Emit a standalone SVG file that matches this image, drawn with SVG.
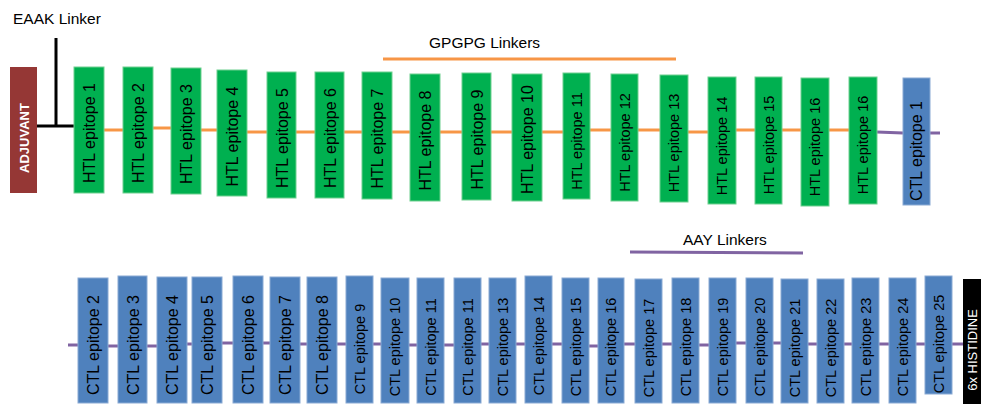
<svg xmlns="http://www.w3.org/2000/svg" width="981" height="404" viewBox="0 0 981 404">
  <style>
    .htl { fill: #00b050; stroke: #6fd08f; stroke-width: 1; }
    .ctl { fill: #4f81bd; stroke: #8aaad4; stroke-width: 1; }
    .adj { fill: #953735; }
    .his { fill: #000000; }
    .lbl { font-family: "Liberation Sans", Arial, sans-serif; font-size: 16px; fill: #000000; text-anchor: middle; }
    .sm { font-size: 14.5px; }
    .wl { font-family: "Liberation Sans", Arial, sans-serif; fill: #ffffff; text-anchor: middle; }
    .cap { font-family: "Liberation Sans", Arial, sans-serif; font-size: 15.5px; fill: #000000; }
    .gp { stroke: #f79646; stroke-width: 3; fill: none; }
    .aay { stroke: #8064a2; stroke-width: 3; fill: none; }
    .eaak { stroke: #000000; stroke-width: 3; fill: none; }
  </style>

  <!-- linker captions -->
  <text class="cap" x="13" y="24">EAAK Linker</text>
  <text class="cap" x="429" y="48">GPGPG Linkers</text>
  <text class="cap" x="683" y="245">AAY Linkers</text>

  <!-- connectors -->
  <g id="connectors">
    <!-- EAAK bracket -->
    <path class="eaak" d="M56 38 V126 M37 126 H74"/>
    <!-- GPGPG legend bar -->
    <line class="gp" x1="383" y1="59" x2="676" y2="59"/>
    <!-- GPGPG segments between HTL epitopes -->
    <line class="gp" x1="104" y1="130" x2="123" y2="130"/>
    <line class="gp" x1="153" y1="128" x2="171" y2="128"/>
    <line class="gp" x1="201" y1="130" x2="217" y2="130"/>
    <line class="gp" x1="247" y1="132" x2="267" y2="132"/>
    <line class="gp" x1="296" y1="132" x2="315" y2="132"/>
    <line class="gp" x1="344" y1="132" x2="362" y2="132"/>
    <line class="gp" x1="392" y1="132" x2="410" y2="132"/>
    <line class="gp" x1="440" y1="132" x2="462" y2="132"/>
    <line class="gp" x1="491" y1="132" x2="512" y2="132"/>
    <line class="gp" x1="542" y1="132" x2="563" y2="132"/>
    <line class="gp" x1="590" y1="130" x2="611" y2="130"/>
    <line class="gp" x1="638" y1="130" x2="660" y2="130"/>
    <line class="gp" x1="688" y1="132" x2="708" y2="132"/>
    <line class="gp" x1="736" y1="130" x2="755" y2="130"/>
    <line class="gp" x1="782" y1="130" x2="801" y2="130"/>
    <line class="gp" x1="829" y1="130" x2="849" y2="130"/>
    <!-- AAY into CTL epitope 1 -->
    <line class="aay" x1="877" y1="132" x2="903" y2="133"/>
    <line class="aay" x1="930" y1="133" x2="940" y2="133"/>
    <!-- AAY legend bar -->
    <line class="aay" x1="630" y1="252" x2="803" y2="253"/>
    <!-- AAY segments between CTL epitopes -->
    <line class="aay" x1="68" y1="345" x2="78" y2="345"/>
    <line class="aay" x1="108" y1="346" x2="118" y2="346"/>
    <line class="aay" x1="147" y1="346" x2="157" y2="346"/>
    <line class="aay" x1="187" y1="344" x2="192" y2="344"/>
    <line class="aay" x1="222" y1="343" x2="233" y2="343"/>
    <line class="aay" x1="263" y1="343" x2="270" y2="343"/>
    <line class="aay" x1="300" y1="344" x2="307" y2="344"/>
    <line class="aay" x1="337" y1="344" x2="346" y2="344"/>
    <line class="aay" x1="373" y1="344" x2="381" y2="344"/>
    <line class="aay" x1="409" y1="345" x2="417" y2="345"/>
    <line class="aay" x1="444" y1="345" x2="454" y2="345"/>
    <line class="aay" x1="481" y1="344" x2="489" y2="344"/>
    <line class="aay" x1="516" y1="344" x2="525" y2="344"/>
    <line class="aay" x1="552" y1="344" x2="562" y2="344"/>
    <line class="aay" x1="589" y1="346" x2="598" y2="346"/>
    <line class="aay" x1="624" y1="344" x2="635" y2="344"/>
    <line class="aay" x1="662" y1="344" x2="672" y2="344"/>
    <line class="aay" x1="699" y1="345" x2="709" y2="345"/>
    <line class="aay" x1="736" y1="343" x2="746" y2="343"/>
    <line class="aay" x1="773" y1="343" x2="781" y2="343"/>
    <line class="aay" x1="808" y1="344" x2="817" y2="344"/>
    <line class="aay" x1="844" y1="344" x2="852" y2="344"/>
    <line class="aay" x1="879" y1="344" x2="889" y2="344"/>
    <line class="aay" x1="916" y1="344" x2="925" y2="344"/>
    <line class="aay" x1="952" y1="344" x2="963" y2="344"/>
  </g>

  <!-- top row -->
  <g id="adjuvant"><rect class="adj" x="10" y="67" width="27" height="126"/><text class="wl" font-size="13" font-weight="bold" transform="translate(29,138) rotate(-90)">ADJUVANT</text></g>
  <g id="htl1"><rect class="htl" x="74" y="67" width="30" height="126"/><text class="lbl" transform="translate(95,133) rotate(-90)">HTL epitope 1</text></g>
  <g id="htl2"><rect class="htl" x="123" y="67" width="30" height="126"/><text class="lbl" transform="translate(144,133) rotate(-90)">HTL epitope 2</text></g>
  <g id="htl3"><rect class="htl" x="171" y="68" width="30" height="126"/><text class="lbl" transform="translate(192,134) rotate(-90)">HTL epitope 3</text></g>
  <g id="htl4"><rect class="htl" x="217" y="70" width="30" height="126"/><text class="lbl" transform="translate(238,136.5) rotate(-90)">HTL epitope 4</text></g>
  <g id="htl5"><rect class="htl" x="267" y="72" width="29" height="126"/><text class="lbl" transform="translate(287.5,138) rotate(-90)">HTL epitope 5</text></g>
  <g id="htl6"><rect class="htl" x="315" y="72" width="29" height="126"/><text class="lbl" transform="translate(335.5,138) rotate(-90)">HTL epitope 6</text></g>
  <g id="htl7"><rect class="htl" x="362" y="72" width="30" height="127"/><text class="lbl" transform="translate(383,138.5) rotate(-90)">HTL epitope 7</text></g>
  <g id="htl8"><rect class="htl" x="410" y="74" width="30" height="127"/><text class="lbl" transform="translate(431,140.5) rotate(-90)">HTL epitope 8</text></g>
  <g id="htl9"><rect class="htl" x="462" y="73" width="29" height="127"/><text class="lbl" transform="translate(482.5,139.5) rotate(-90)">HTL epitope 9</text></g>
  <g id="htl10"><rect class="htl" x="512" y="74" width="30" height="127"/><text class="lbl" font-size="15.5" transform="translate(532.5,139.5) rotate(-90)">HTL epitope 10</text></g>
  <g id="htl11"><rect class="htl" x="563" y="73" width="27" height="126"/><text class="lbl sm" transform="translate(581.5,141) rotate(-90)">HTL epitope 11</text></g>
  <g id="htl12"><rect class="htl" x="611" y="74" width="27" height="127"/><text class="lbl sm" transform="translate(629.5,142.5) rotate(-90)">HTL epitope 12</text></g>
  <g id="htl13"><rect class="htl" x="660" y="75" width="28" height="127"/><text class="lbl sm" transform="translate(679,143) rotate(-90)">HTL epitope 13</text></g>
  <g id="htl14"><rect class="htl" x="708" y="77" width="28" height="127"/><text class="lbl sm" transform="translate(727,146) rotate(-90)">HTL epitope 14</text></g>
  <g id="htl15"><rect class="htl" x="755" y="77" width="27" height="127"/><text class="lbl sm" transform="translate(773.5,145) rotate(-90)">HTL epitope 15</text></g>
  <g id="htl16"><rect class="htl" x="801" y="78" width="28" height="128"/><text class="lbl sm" transform="translate(820,147) rotate(-90)">HTL epitope 16</text></g>
  <g id="htl16b"><rect class="htl" x="849" y="77" width="28" height="127"/><text class="lbl sm" transform="translate(868,145) rotate(-90)">HTL epitope 16</text></g>
  <g id="ctl1"><rect class="ctl" x="903" y="78" width="27" height="127"/><text class="lbl" font-size="14" transform="translate(921.5,151) rotate(-90)">CTL epitope 1</text></g>

  <!-- bottom row -->
  <g id="ctl2"><rect class="ctl" x="78" y="278" width="30" height="125"/><text class="lbl" transform="translate(99,345) rotate(-90)">CTL epitope 2</text></g>
  <g id="ctl3"><rect class="ctl" x="118" y="276" width="29" height="127"/><text class="lbl" transform="translate(138.5,345) rotate(-90)">CTL epitope 3</text></g>
  <g id="ctl4"><rect class="ctl" x="157" y="277" width="30" height="126"/><text class="lbl" transform="translate(178,345) rotate(-90)">CTL epitope 4</text></g>
  <g id="ctl5"><rect class="ctl" x="192" y="277" width="30" height="126"/><text class="lbl" transform="translate(213,345) rotate(-90)">CTL epitope 5</text></g>
  <g id="ctl6"><rect class="ctl" x="233" y="276" width="30" height="127"/><text class="lbl" transform="translate(254,345) rotate(-90)">CTL epitope 6</text></g>
  <g id="ctl7"><rect class="ctl" x="270" y="277" width="30" height="126"/><text class="lbl" transform="translate(291,345) rotate(-90)">CTL epitope 7</text></g>
  <g id="ctl8"><rect class="ctl" x="307" y="277" width="30" height="126"/><text class="lbl" transform="translate(328,345) rotate(-90)">CTL epitope 8</text></g>
  <g id="ctl9"><rect class="ctl" x="346" y="276" width="27" height="127"/><text class="lbl sm" transform="translate(364.5,349) rotate(-90)">CTL epitope 9</text></g>
  <g id="ctl10"><rect class="ctl" x="381" y="278" width="28" height="125"/><text class="lbl sm" transform="translate(400,347) rotate(-90)">CTL epitope 10</text></g>
  <g id="ctl11"><rect class="ctl" x="417" y="278" width="27" height="125"/><text class="lbl sm" transform="translate(435.5,347) rotate(-90)">CTL epitope 11</text></g>
  <g id="ctl11b"><rect class="ctl" x="454" y="278" width="27" height="125"/><text class="lbl sm" transform="translate(472.5,347) rotate(-90)">CTL epitope 11</text></g>
  <g id="ctl13"><rect class="ctl" x="489" y="278" width="27" height="125"/><text class="lbl sm" transform="translate(507.5,347) rotate(-90)">CTL epitope 13</text></g>
  <g id="ctl14"><rect class="ctl" x="525" y="276" width="27" height="127"/><text class="lbl sm" transform="translate(543.5,346) rotate(-90)">CTL epitope 14</text></g>
  <g id="ctl15"><rect class="ctl" x="562" y="278" width="27" height="125"/><text class="lbl sm" transform="translate(580.5,347) rotate(-90)">CTL epitope 15</text></g>
  <g id="ctl16"><rect class="ctl" x="598" y="278" width="26" height="125"/><text class="lbl sm" transform="translate(616,347) rotate(-90)">CTL epitope 16</text></g>
  <g id="ctl17"><rect class="ctl" x="635" y="279" width="27" height="124"/><text class="lbl sm" transform="translate(653.5,348) rotate(-90)">CTL epitope 17</text></g>
  <g id="ctl18"><rect class="ctl" x="672" y="278" width="27" height="125"/><text class="lbl sm" transform="translate(690.5,347) rotate(-90)">CTL epitope 18</text></g>
  <g id="ctl19"><rect class="ctl" x="709" y="278" width="27" height="125"/><text class="lbl sm" transform="translate(727.5,347) rotate(-90)">CTL epitope 19</text></g>
  <g id="ctl20"><rect class="ctl" x="746" y="278" width="27" height="125"/><text class="lbl sm" transform="translate(764.5,347) rotate(-90)">CTL epitope 20</text></g>
  <g id="ctl21"><rect class="ctl" x="781" y="279" width="27" height="124"/><text class="lbl sm" transform="translate(799.5,348) rotate(-90)">CTL epitope 21</text></g>
  <g id="ctl22"><rect class="ctl" x="817" y="279" width="27" height="124"/><text class="lbl sm" transform="translate(835.5,348) rotate(-90)">CTL epitope 22</text></g>
  <g id="ctl23"><rect class="ctl" x="852" y="278" width="27" height="125"/><text class="lbl sm" transform="translate(870.5,347) rotate(-90)">CTL epitope 23</text></g>
  <g id="ctl24"><rect class="ctl" x="889" y="278" width="27" height="125"/><text class="lbl sm" transform="translate(907.5,347) rotate(-90)">CTL epitope 24</text></g>
  <g id="ctl25"><rect class="ctl" x="925" y="276" width="27" height="118"/><text class="lbl sm" transform="translate(943.5,344) rotate(-90)">CTL epitope 25</text></g>
  <g id="histidine"><rect class="his" x="963" y="279" width="20" height="126"/><text class="wl" font-size="13" transform="translate(977,350) rotate(-90)">6x HISTIDINE</text></g>
</svg>
